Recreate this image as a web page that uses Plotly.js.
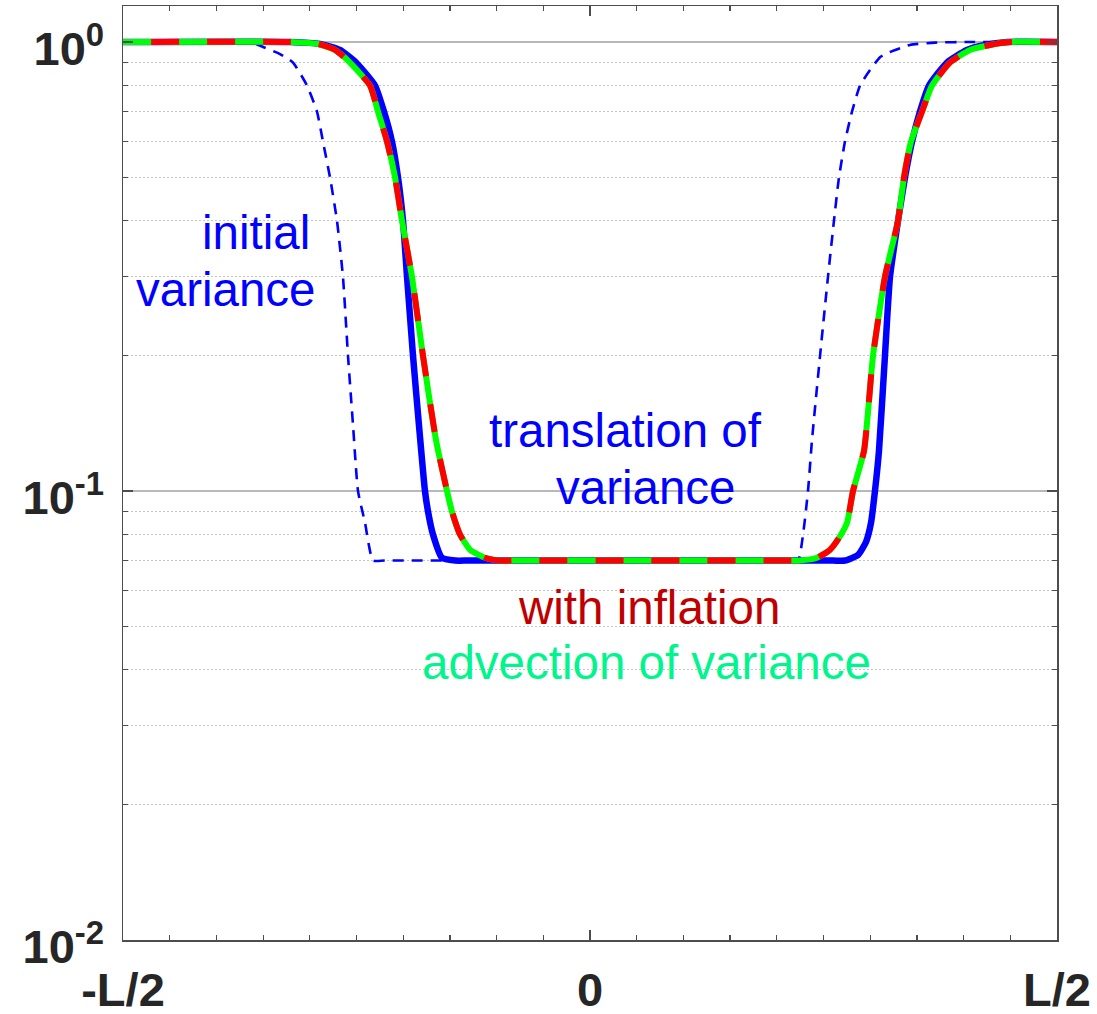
<!DOCTYPE html>
<html><head><meta charset="utf-8">
<script src="https://cdn.plot.ly/plotly-3.0.1.min.js"></script>
<style>html,body{margin:0;padding:0;background:#fff}</style>
</head><body><div id="chart" style="width:1097px;height:1014px"></div>
<script>
// x in units of L (domain -L/2 .. L/2), y = variance (log axis)
const initialX = [-0.5, -0.3640, -0.3501, -0.3319, -0.3180, -0.3030, -0.2923, -0.2859, -0.2784, -0.2709, -0.2645, -0.2591, -0.2537, -0.2484, -0.2409, -0.2323, -0.2200, -0.1000, 0.1000, 0.2100,
  0.2227, 0.2281, 0.2334, 0.2377, 0.2463, 0.2548, 0.2612, 0.2666, 0.2730, 0.2805, 0.2891, 0.2998, 0.3105, 0.3212, 0.3426, 0.3694, 0.4069, 0.5];
const initialY = [1.0, 1.0, 0.975, 0.94, 0.9, 0.8, 0.7, 0.6, 0.5, 0.4, 0.3, 0.2, 0.14, 0.1, 0.085, 0.07, 0.07, 0.07, 0.07, 0.07,
  0.07, 0.08, 0.1, 0.13, 0.2, 0.3, 0.4, 0.5, 0.6, 0.7, 0.8, 0.866, 0.925, 0.95, 0.985, 0.997, 1.0, 1.0];

const translationX = [-0.5, -0.3212, -0.2891, -0.2677, -0.2505, -0.2302, -0.2206, -0.2120, -0.2056, -0.2002, -0.1959, -0.1895, -0.1831, -0.1767, -0.1734, -0.1681, -0.1585, -0.1445, -0.1300, 0.0000, 0.2600,
  0.2730, 0.2869, 0.2955, 0.3009, 0.3051, 0.3094, 0.3158, 0.3212, 0.3298, 0.3373, 0.3448, 0.3533, 0.3630, 0.3822, 0.4036, 0.4229, 0.4465, 0.5];
const translationY = [1.0, 1.0, 0.99, 0.96, 0.9, 0.8, 0.7, 0.6, 0.5, 0.4, 0.3, 0.2, 0.14, 0.1, 0.09, 0.08, 0.071, 0.07, 0.07, 0.07, 0.07,
  0.07, 0.072, 0.077, 0.085, 0.1, 0.123, 0.2, 0.3, 0.4, 0.5, 0.6, 0.7, 0.8, 0.9, 0.96, 0.985, 1.0, 1.0];

const advectionX = [-0.5, -0.3212, -0.2912, -0.2730, -0.2570, -0.2355, -0.2270, -0.2173, -0.2088, -0.2013, -0.1906, -0.1788, -0.1649, -0.1531, -0.1478, -0.1392, -0.1285, -0.1124, -0.0964, -0.0800, 0.0500, 0.2100,
  0.2248, 0.2430, 0.2570, 0.2655, 0.2752, 0.2816, 0.2934, 0.3030, 0.3158, 0.3298, 0.3362, 0.3437, 0.3555, 0.3662, 0.3854, 0.4069, 0.4283, 0.4497, 0.5];
const advectionY = [1.0, 1.0, 0.99, 0.96, 0.9, 0.8, 0.7, 0.6, 0.5, 0.4, 0.3, 0.2, 0.13, 0.1, 0.09, 0.08, 0.074, 0.071, 0.07, 0.07, 0.07, 0.07,
  0.07, 0.071, 0.074, 0.078, 0.085, 0.1, 0.123, 0.2, 0.3, 0.4, 0.5, 0.6, 0.7, 0.8, 0.9, 0.96, 0.985, 1.0, 1.0];

const inflationX = advectionX.slice();
const inflationY = advectionY.slice();

const xTickVals = [-0.5, 0, 0.5];
const xTickText = ['-L/2', '0', 'L/2'];
const yTickVals = [0.01, 0.1, 1];
const yTickText = ['10<sup>-2</sup>', '10<sup>-1</sup>', '10<sup>0</sup>'];

const yMinorVals = [];
[0.01, 0.1].forEach(d => { for (let k = 2; k <= 9; k++) yMinorVals.push(+(k * d).toFixed(3)); });

const spline = {shape: 'spline', smoothing: 0.5};
const traces = [
  {x: initialX, y: initialY, mode: 'lines', name: 'initial variance',
   line: Object.assign({color: '#0000FF', width: 2.6, dash: '11px,8px'}, spline)},
  {x: translationX, y: translationY, mode: 'lines', name: 'translation of variance',
   line: Object.assign({color: '#0000FF', width: 6.5}, spline)},
  {x: advectionX, y: advectionY, mode: 'lines', name: 'advection of variance',
   line: Object.assign({color: '#00FF00', width: 6}, spline)},
  {x: inflationX, y: inflationY, mode: 'lines', name: 'with inflation',
   line: Object.assign({color: '#FF0000', width: 6, dash: '0px,28px,28px,0px'}, spline)}
];

const txtFont = {family: 'Liberation Sans, Arial, sans-serif', size: 47.5};
function ann(text, x, ylog, color, anchor) {
  return {text: text, x: x, y: ylog, xref: 'x', yref: 'y', showarrow: false,
    xanchor: anchor || 'center', yanchor: 'middle', font: Object.assign({color: color}, txtFont)};
}

const layout = {
  width: 1097, height: 1014,
  margin: {l: 123, r: 40, t: 6, b: 74},
  paper_bgcolor: '#ffffff', plot_bgcolor: '#ffffff',
  showlegend: false,
  xaxis: {
    range: [-0.5, 0.5], tickmode: 'array', tickvals: xTickVals, ticktext: xTickText,
    ticks: 'inside', ticklen: 10, tickwidth: 1.5, tickcolor: '#4d4d4d',
    showline: true, linecolor: '#4d4d4d', linewidth: 1.5, mirror: 'allticks',
    showgrid: false, zeroline: false,
    ticklabelstandoff: 8,
    tickfont: {family: 'Liberation Sans, Arial, sans-serif', size: 47, color: '#262626', weight: 'bold'},
    minor: {dtick: 0.05, tick0: 0, ticks: 'inside', ticklen: 5, tickwidth: 1.2, tickcolor: '#4d4d4d', showgrid: false}
  },
  yaxis: {
    type: 'log', range: [-2, 0.0802], tickmode: 'array', tickvals: yTickVals, ticktext: yTickText,
    ticks: 'inside', ticklen: 10, tickwidth: 1.5, tickcolor: '#4d4d4d',
    showline: true, linecolor: '#4d4d4d', linewidth: 1.5, mirror: 'allticks',
    showgrid: true, gridcolor: '#b8b8b8', gridwidth: 1.5, zeroline: false,
    ticklabelstandoff: 8, ticklabelshift: 7,
    tickfont: {family: 'Liberation Sans, Arial, sans-serif', size: 47, color: '#262626', weight: 'bold'},
    minor: {tickmode: 'array', tickvals: yMinorVals, ticks: 'inside', ticklen: 5, tickwidth: 1.2, tickcolor: '#4d4d4d',
      showgrid: true, gridcolor: '#c4c4c4', gridwidth: 1, griddash: '2px,2px'}
  },
  annotations: [
    ann('initial', -0.2976, -0.425, '#0000FF', 'right'),
    ann('variance', -0.2912, -0.552, '#0000FF', 'right'),
    ann('translation of', 0.0385, -0.866, '#0000FF'),
    ann('variance', 0.060, -0.993, '#0000FF'),
    ann('with inflation', 0.0632, -1.260, '#C00000'),
    ann('advection of variance', 0.060, -1.383, '#00F58C')
  ]
};

Plotly.newPlot('chart', traces, layout, {displayModeBar: false, staticPlot: true});
</script>
</body></html>
